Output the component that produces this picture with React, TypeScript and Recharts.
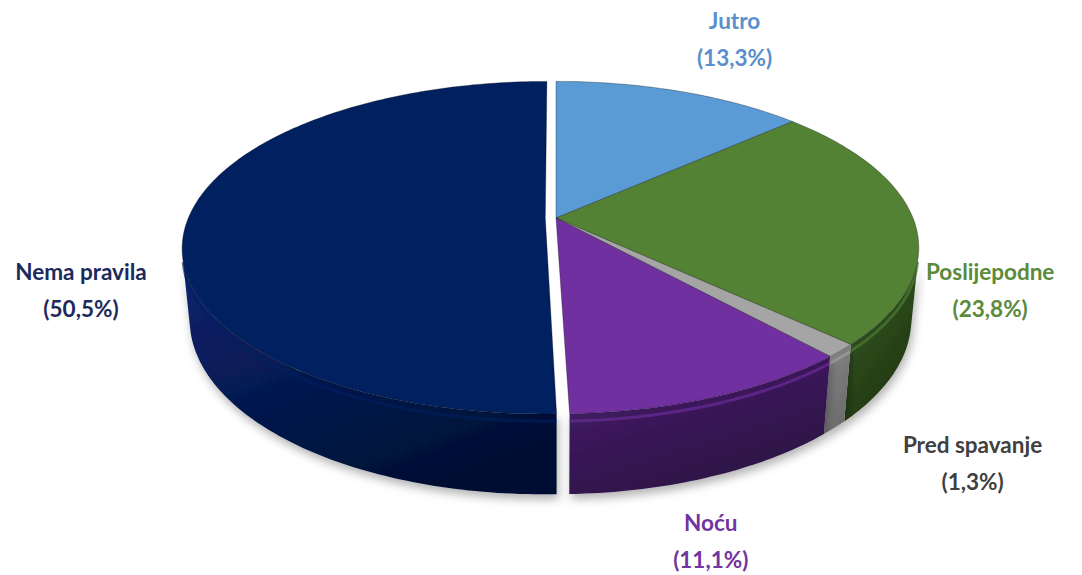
import { PieChart, Pie } from 'recharts'

const CATEGORIES = ['Jutro', 'Poslijepodne', 'Pred spavanje', 'Noću', 'Nema pravila']
const SHARES = [13.3, 23.8, 1.3, 11.1, 50.5]

const TOP_COLORS = ['#5B9BD5', '#548235', '#A5A5A5', '#7030A0', '#002060']
const WALL_LIGHT = ['#3f77ad', '#3a5e24', '#8a8a8a', '#4a2070', '#0c2470']
const WALL_DARK = ['#22466e', '#1f3512', '#6a6a6a', '#2a1042', '#000f33']
const LABEL_COLORS = ['#5B8FCB', '#5A8A3A', '#404040', '#7035A0', '#1B2A5C']
// label centre, relative to the slice's outer rim
const LABEL_SHIFT: [number, number][] = [[55, -79], [80, 39], [135, 78], [-2, 109], [-110, 39]]
const EXPLODED = 'Nema pravila'

const data = CATEGORIES.map((name, i) => ({ name, value: SHARES[i] }))

// simple perspective camera for the 3D look
const RAD = Math.PI / 180
const TILT = 26.8 * RAD
const S = Math.sin(TILT)
const C = Math.cos(TILT)
const DIST = 5.02
const THICK = 0.225
const EXPLODE = 0.03
const CX = 551
const CY = 213
const R = 357

function project(cx: number, cy: number, r: number, rho: number, th: number, y: number, ex = 0, ez = 0) {
  const x = rho * Math.sin(th * RAD) + ex
  const z = rho * Math.cos(th * RAD) + ez
  const d = DIST - y * S + z * C
  const v = y * C + z * S
  const k = (r * DIST) / d
  return [cx + x * k, cy - v * k]
}

function sliceInfo(props: any) {
  const name = props.name ?? props.payload?.name
  const i = CATEGORIES.indexOf(name)
  const t1 = 90 - props.startAngle
  const t2 = 90 - props.endAngle
  const tm = (t1 + t2) / 2
  const e = name === EXPLODED ? EXPLODE : 0
  const ex = e * Math.sin(tm * RAD)
  const ez = e * Math.cos(tm * RAD)
  return { i, t1: Math.min(t1, t2), t2: Math.max(t1, t2), ex, ez }
}

function arcPts(props: any, a: number, b: number, y: number, ex: number, ez: number) {
  const pts: number[][] = []
  const n = Math.max(2, Math.ceil(Math.abs(b - a)))
  for (let j = 0; j <= n; j++) {
    const th = a + ((b - a) * j) / n
    pts.push(project(props.cx, props.cy, props.outerRadius, 1, th, y, ex, ez))
  }
  return pts
}

const toPath = (pts: number[][]) => 'M' + pts.map(p => p[0].toFixed(1) + ',' + p[1].toFixed(1)).join('L')

const Wall = (props: any) => {
  const { i, t1, t2, ex, ez } = sliceInfo(props)
  const lim = Math.acos(-1 / (DIST * C)) / RAD
  const a = Math.max(t1, lim)
  const b = Math.min(t2, 360 - lim)
  if (b <= a) return <g />
  const top = arcPts(props, a, b, 0, ex, ez)
  const bottom = arcPts(props, b, a, -THICK, ex, ez)
  const rim = arcPts(props, a, b, -0.02, ex, ez)
  const gid = 'wall-' + i
  return (
    <g>
      <defs>
        <linearGradient id={gid} x1="0" y1="0" x2="0.6" y2="1">
          <stop offset="0%" stopColor={WALL_LIGHT[i]} />
          <stop offset="100%" stopColor={WALL_DARK[i]} />
        </linearGradient>
        <filter id={'sh-' + i} x="-10%" y="-10%" width="120%" height="140%">
          <feDropShadow dx="2" dy="5" stdDeviation="5" floodColor="#000" floodOpacity="0.3" />
        </filter>
      </defs>
      <path d={toPath([...top, ...bottom]) + 'Z'} fill={`url(#${gid})`} filter={`url(#sh-${i})`} />
      <path d={toPath(rim)} fill="none" stroke={TOP_COLORS[i]} strokeOpacity={0.6} strokeWidth={3} />
    </g>
  )
}

const Top = (props: any) => {
  const { i, t1, t2, ex, ez } = sliceInfo(props)
  const apex = project(props.cx, props.cy, props.outerRadius, 0, 0, 0, ex, ez)
  const rim = arcPts(props, t1, t2, 0, ex, ez)
  return (
    <path
      d={toPath([apex, ...rim]) + 'Z'}
      fill={TOP_COLORS[i]}
      stroke="rgba(0,0,0,0.3)"
      strokeWidth={1}
      strokeLinejoin="round"
    />
  )
}

const renderLabel = (props: any) => {
  const name = props.name ?? props.payload?.name
  const i = CATEGORIES.indexOf(name)
  const tm = 90 - props.midAngle
  const e = name === EXPLODED ? EXPLODE : 0
  const [ax, ay] = project(props.cx, props.cy, props.outerRadius, 1 + e, tm, -THICK / 2)
  const x = ax + LABEL_SHIFT[i][0]
  const y = ay + LABEL_SHIFT[i][1]
  const pct = '(' + SHARES[i].toFixed(1).replace('.', ',') + '%)'
  return (
    <text
      x={x}
      y={y}
      textAnchor="middle"
      fontFamily="Lato, 'Open Sans', sans-serif"
      fontWeight={700}
      fontSize={22.5}
      fill={LABEL_COLORS[i]}
    >
      <tspan x={x} y={y - 15}>{name}</tspan>
      <tspan x={x} y={y + 22}>{pct}</tspan>
    </text>
  )
}

export default function App() {
  return (
    <div style={{ position: 'fixed', left: 0, top: 0, width: 1082, height: 575, background: '#fff' }}>
      <PieChart width={1082} height={575}>
        <Pie
          data={data}
          dataKey="value"
          cx={CX}
          cy={CY}
          outerRadius={R}
          startAngle={90}
          endAngle={-270}
          shape={Wall}
          isAnimationActive={false}
          stroke="none"
        />
        <Pie
          data={data}
          dataKey="value"
          cx={CX}
          cy={CY}
          outerRadius={R}
          startAngle={90}
          endAngle={-270}
          shape={Top}
          label={renderLabel}
          labelLine={false}
          isAnimationActive={false}
          stroke="none"
        />
      </PieChart>
    </div>
  )
}
